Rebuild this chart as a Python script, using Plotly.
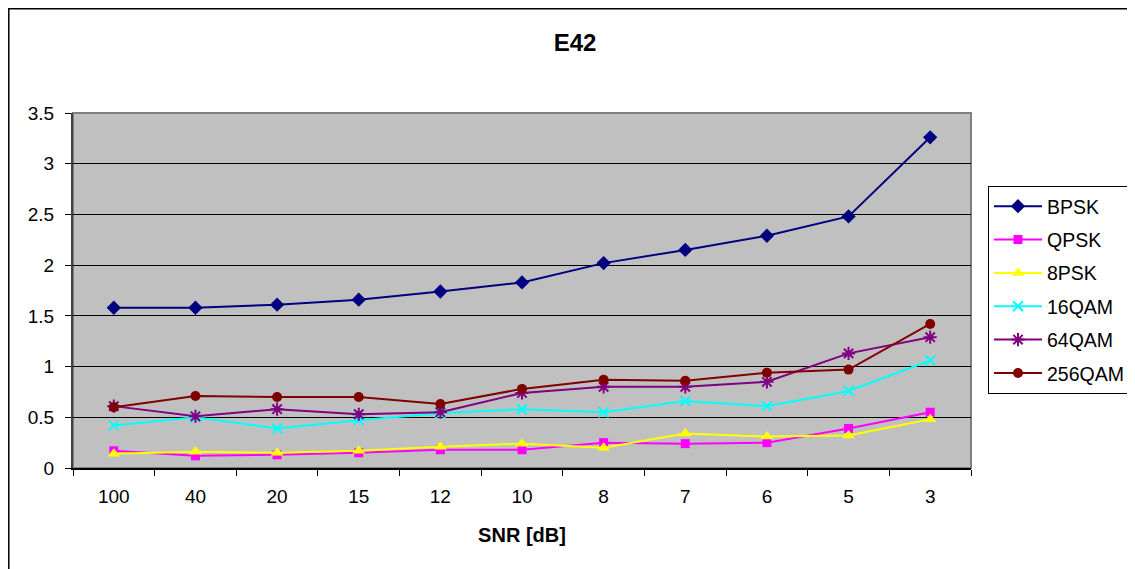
import plotly.graph_objects as go

snr = ["100", "40", "20", "15", "12", "10", "8", "7", "6", "5", "3"]
bpsk = [1.58, 1.58, 1.61, 1.66, 1.74, 1.83, 2.02, 2.15, 2.29, 2.48, 3.26]
qpsk = [0.17, 0.12, 0.13, 0.15, 0.18, 0.18, 0.25, 0.24, 0.25, 0.39, 0.55]
psk8 = [0.14, 0.16, 0.15, 0.17, 0.21, 0.24, 0.20, 0.34, 0.31, 0.32, 0.48]
qam16 = [0.42, 0.50, 0.39, 0.47, 0.54, 0.58, 0.55, 0.66, 0.61, 0.76, 1.06]
qam64 = [0.61, 0.51, 0.58, 0.53, 0.55, 0.74, 0.80, 0.80, 0.85, 1.13, 1.29]
qam256 = [0.60, 0.71, 0.70, 0.70, 0.63, 0.78, 0.87, 0.86, 0.94, 0.97, 1.42]

FONT = "Arial, Liberation Sans, sans-serif"

series = [
    ("BPSK", bpsk, "#000080", "diamond", 11, False),
    ("QPSK", qpsk, "#FF00FF", "square", 9, False),
    ("8PSK", psk8, "#FFFF00", "triangle-up", 11, False),
    ("16QAM", qam16, "#00FFFF", "x-thin", 10, True),
    ("64QAM", qam64, "#800080", "asterisk", 11, True),
    ("256QAM", qam256, "#800000", "circle", 10, False),
]

fig = go.Figure()
for name, vals, col, sym, sz, open_ in series:
    marker = dict(symbol=sym, size=sz, color=col)
    if open_:
        marker["line"] = dict(color=col, width=2)
    else:
        marker["line"] = dict(width=0)
    fig.add_trace(go.Scatter(
        x=snr, y=vals, name=name, mode="lines+markers",
        line=dict(color=col, width=2), marker=marker,
        legendgroup=name,
    ))

# page body has an 8px margin; figure is sized/offset to compensate
W, H = 1127, 561
PW, PH = 898, 355
L, T = 65, 105

fig.update_layout(
    width=W, height=H,
    margin=dict(l=L, r=W - L - PW, t=T, b=H - T - PH),
    paper_bgcolor="white",
    plot_bgcolor="#C0C0C0",
    font=dict(family=FONT, size=19, color="black"),
    title=dict(text="<b>E42</b>", font=dict(size=24, family=FONT),
               x=567 / W, xanchor="center", xref="container",
               y=1 - 35 / H, yanchor="middle", yref="container"),
    showlegend=True,
    legend=dict(xref="container", yref="container",
                x=980 / W, xanchor="left",
                y=1 - 178 / H, yanchor="top",
                bordercolor="black", borderwidth=1,
                bgcolor="white", font=dict(size=19.5, family=FONT),
                tracegroupgap=5, itemwidth=48),
    xaxis=dict(
        type="category", categoryorder="array", categoryarray=snr,
        range=[-0.5, len(snr) - 0.5],
        showgrid=False, showline=True, linecolor="black", linewidth=2,
        ticks="outside", ticklen=6, tickcolor="black", tickwidth=1,
        tickson="boundaries", ticklabelstandoff=10,
        title=dict(text="<b>SNR [dB]</b>", font=dict(size=20, family=FONT), standoff=22),
        zeroline=False,
    ),
    yaxis=dict(
        range=[0, 3.5], dtick=0.5, tick0=0,
        showgrid=True, gridcolor="black", gridwidth=1,
        showline=True, linecolor="#404040", linewidth=2,
        ticks="outside", ticklen=6, tickcolor="black", tickwidth=1,
        ticklabelstandoff=7, zeroline=False,
    ),
    shapes=[
        dict(type="rect", xref="paper", yref="paper", x0=0, x1=1, y0=0, y1=1,
             line=dict(color="#808080", width=2), fillcolor="rgba(0,0,0,0)", layer="below"),
        dict(type="rect", xref="paper", yref="paper",
             x0=(8.8 - 73) / PW, x1=(1160 - 73) / PW,
             y0=(468 - 600) / PH, y1=(468 - 8.8) / PH,
             line=dict(color="black", width=1.5), fillcolor="rgba(0,0,0,0)"),
    ],
)

fig.write_html("out.html")
